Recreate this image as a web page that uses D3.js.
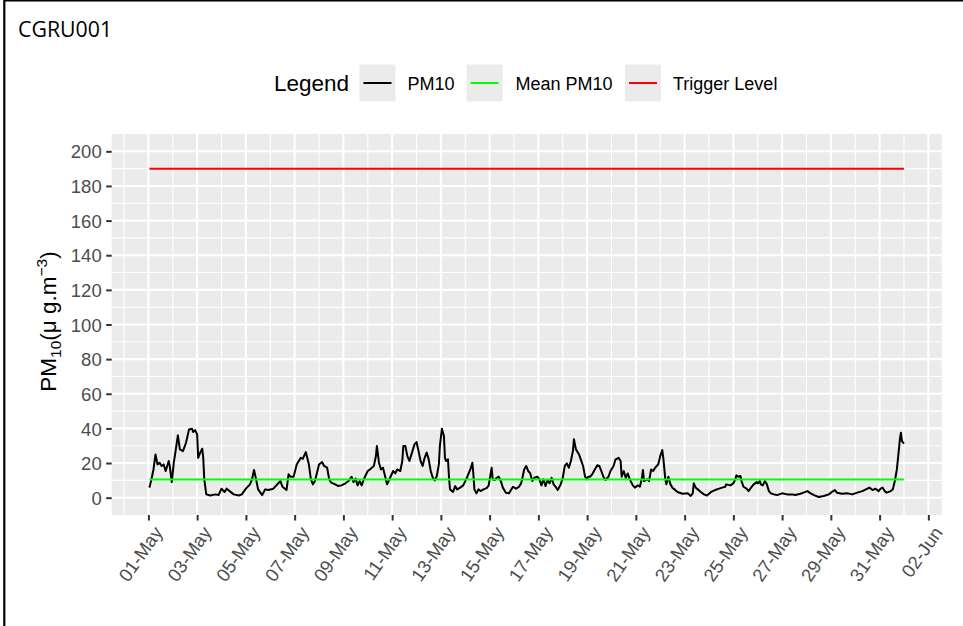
<!DOCTYPE html>
<html lang="en">
<head>
<meta charset="UTF-8">
<title>CGRU001 PM10</title>
<script src="https://d3js.org/d3.v7.min.js"></script>
<style>
  body { margin: 0; background: #fff; }
  svg { display: block; }
  text { font-family: "Liberation Sans", Arial, sans-serif; }
</style>
</head>
<body>
<svg id="canvas"></svg>
<script>
// readings: hours after 01-May 00:00 and PM10 (ug/m3)
let hours = [1,3,5,7,9,11,13,15,17,20,21,23,25,27,29,31,34,37,40,43,44,46,48,49,51,53,54,55,57,61,66,69,72,75,77,80,84,89,92,96,100,102,104,106,108,112,115,118,123,126,130,132,136,138,140,143,146,150,
  152,155,156,158,160,162,164,166,168,171,173,176,178,180,184,187,190,194,197,200,202,204,206,208,210,212,216,218,222,224,225,227,229,231,233,235,238,241,243,245,248,250,251,253,255,257,259,262,264,266,268,270,272,274,276,278,280,282,284,286,287,289,291,292,293,295,296,297,300,302,304,307,310,312,314,317,319,320,321,323,325,327,330,333,335,336,
  338,339,341,343,345,347,349,352,355,357,359,362,365,367,368,370,372,374,376,378,380,383,385,387,389,391,393,395,397,399,401,403,406,408,410,412,414,416,418,419,421,423,424,426,428,430,432,433,435,437,440,442,444,446,448,450,453,455,458,460,463,465,466,468,470,472,474,477,479,482,484,486,487,488,491,493,495,497,499,502,504,506,507,509,510,512,514,516,518,521,
  526,531,534,536,537,539,541,544,547,550,554,558,562,565,568,569,573,576,578,579,581,583,584,586,589,591,594,596,599,600,602,603,605,607,609,611,613,616,619,624,629,634,637,642,645,649,652,656,660,665,670,673,676,678,683,688,693,698,703,708,710,713,716,719,721,723,725,727,731,733,735,737,739,740,741,742,744]

let pm10 = [5.8,10.6,16.3,25,19.2,20.2,18.3,19.2,15.4,21.2,18.3,9,20.2,27.9,36,27.9,26.9,31.7,39.4,39.8,37.9,39,36.5,23,26,28.3,23,10.6,1.9,1.3,1.9,1.5,5.2,3.3,5.2,3.8,1.9,1.3,1.9,5.2,7.7,10.6,16,10.6,4.8,1.5,4.8,4.4,5.2,7.1,9.6,6.3,4.4,13.5,12.1,12.1,19.2,23,
  22.5,26.3,24,19.2,10.6,7.7,9.6,14.4,19.2,20.6,18.3,17.3,10.6,8.7,7.7,6.7,7.1,8.3,9.6,12.1,9,11,7.1,9.6,7.1,10.6,15.4,16.3,18.3,24,29.8,20.2,16.3,17.3,12.5,7.7,11.5,15.4,14,16.3,15.4,21.2,29.8,29.8,24,21.2,25,30.8,32.1,26.9,21.2,18.3,23,26,22.1,15.4,11.5,10,12.5,19.2,29.8,39.8,35.6,23,21.2,22.1,11.5,4.8,3.3,6.7,4.8,5.8,7.1,9.6,12.1,16.3,20.2,13.5,4.8,2.5,4.8,3.8,4.8,5.5,7,10.6,
  17.3,10.6,10.2,11.5,12.1,9.6,5.8,2.9,2.5,4.4,6.3,5.2,6.3,8.3,10.6,16.3,18.3,15.4,14,9.6,11.5,12.1,10.6,7.1,10.6,6.7,10.2,8.3,11.5,7.7,6.3,4.4,7.7,11.5,18.3,19.8,17.3,21.2,26.9,33.7,27.9,26,25,21.7,18.3,12.1,10.6,12.1,12.1,13.5,16.7,18.7,18.3,15.4,12.1,10.2,12.1,15.4,18.3,22.1,23,21.2,12.1,15.4,11.5,14,10.6,7.1,5.8,7.1,6.3,11.5,16,9.6,10.6,9.6,16.3,15.4,17.3,19.2,24,27.5,23,10.6,7.7,12.1,7.7,5.8,4.8,3.3,
  2.3,2.5,1,2.5,8.3,5.8,4.8,3.3,1.9,1.3,3.3,4.4,5.2,5.8,6.3,7.7,7.1,8.3,10.6,12.9,12.1,12.5,9.6,6.3,5.2,3.8,6.3,7.7,9,8.3,9.6,7.7,7.1,9.6,7.7,3.8,2.5,1.9,1.5,2.5,1.9,1.9,1.5,2.3,2.9,3.8,2.5,1.3,0.4,1,1.9,3.3,4.4,2.9,2.3,2.5,1.9,2.9,3.8,5.2,5.8,4.4,5.2,3.8,5.2,5.8,3.8,2.9,3.8,4.8,9.6,16.3,27.9,34,37.5,32.7,31.2]

let meanPM10 = 10.5
let triggerLevel = 190

let yTicks = [0,20,40,60,80,100,120,140,160,180,200]
let yMinor = [10,30,50,70,90,110,130,150,170,190]
let xTickDays = ["2023-05-01","2023-05-03","2023-05-05","2023-05-07","2023-05-09","2023-05-11","2023-05-13","2023-05-15","2023-05-17","2023-05-19","2023-05-21","2023-05-23","2023-05-25","2023-05-27","2023-05-29","2023-05-31","2023-06-02"]
let xMinorDays = ["2023-04-30","2023-05-02","2023-05-04","2023-05-06","2023-05-08","2023-05-10","2023-05-12","2023-05-14","2023-05-16","2023-05-18","2023-05-20","2023-05-22","2023-05-24","2023-05-26","2023-05-28","2023-05-30","2023-06-01"]

let legendNames = ["PM10","Mean PM10","Trigger Level"]
let legendColors = ["#000000","#00FF00","#FF0000"]

let width = 963
let height = 626
let panel = {left: 111.7, right: 941.7, top: 134, bottom: 515}

let start = Date.UTC(2023, 4, 1)
let toDate = (h) => new Date(start + h * 3600000)
let utcDay = (s) => new Date(s + 'T00:00:00Z')
let series = hours.map((h, i) => ({date: toDate(h), value: pm10[i]}))

let svg = d3.select('#canvas').attr('width', width).attr('height', height)

// frame lines on top and left
svg.append('path')
   .attr('d', 'M4.3,626V0.5H963')
   .attr('fill', 'none')
   .attr('stroke', '#000')
   .attr('stroke-width', 2.2)

svg.append('text')
   .attr('x', 18)
   .attr('y', 36.5)
   .style('font-family', '"Open Sans", sans-serif')
   .style('font-size', '21.3px')
   .attr('fill', '#000')
   .text('CGRU001')

// scales, 5% expansion on x like ggplot
let tExtent = d3.extent(series, d => d.date)
let pad = (tExtent[1] - tExtent[0]) * 0.05
let xScale = d3.scaleUtc()
               .domain([new Date(+tExtent[0] - pad), new Date(+tExtent[1] + pad)])
               .range([panel.left, panel.right])
let yScale = d3.scaleLinear()
               .domain([-10, 210])
               .range([panel.bottom, panel.top])

svg.append('rect')
   .attr('x', panel.left).attr('y', panel.top)
   .attr('width', panel.right - panel.left)
   .attr('height', panel.bottom - panel.top)
   .attr('fill', '#EBEBEB')

let grid = svg.append('g').attr('stroke', '#fff').attr('fill', 'none')
grid.selectAll('.ymin').data(yMinor).enter().append('line')
    .attr('x1', panel.left).attr('x2', panel.right)
    .attr('y1', d => yScale(d)).attr('y2', d => yScale(d))
    .attr('stroke-width', 1.1)
grid.selectAll('.xmin').data(xMinorDays).enter().append('line')
    .attr('y1', panel.top).attr('y2', panel.bottom)
    .attr('x1', d => xScale(utcDay(d))).attr('x2', d => xScale(utcDay(d)))
    .attr('stroke-width', 1.1)
grid.selectAll('.ymaj').data(yTicks).enter().append('line')
    .attr('x1', panel.left).attr('x2', panel.right)
    .attr('y1', d => yScale(d)).attr('y2', d => yScale(d))
    .attr('stroke-width', 2.1)
grid.selectAll('.xmaj').data(xTickDays).enter().append('line')
    .attr('y1', panel.top).attr('y2', panel.bottom)
    .attr('x1', d => xScale(utcDay(d))).attr('x2', d => xScale(utcDay(d)))
    .attr('stroke-width', 2.1)

// trigger and mean lines span the data period
let hLine = (val, color) => {
  svg.append('line')
     .attr('x1', xScale(tExtent[0])).attr('x2', xScale(tExtent[1]))
     .attr('y1', yScale(val)).attr('y2', yScale(val))
     .attr('stroke', color).attr('stroke-width', 2)
}
hLine(triggerLevel, '#FF0000')

let line = d3.line().x(d => xScale(d.date)).y(d => yScale(d.value))
svg.append('path')
   .datum(series)
   .attr('d', line)
   .attr('fill', 'none')
   .attr('stroke', '#000')
   .attr('stroke-width', 2)
   .attr('stroke-linejoin', 'round')

hLine(meanPM10, '#00FF00')

// axes
let yAxis = d3.axisLeft(yScale).tickValues(yTicks).tickSize(5.5).tickPadding(4.5)
let gy = svg.append('g').attr('transform', `translate(${panel.left},0)`).call(yAxis)
gy.select('.domain').remove()
gy.selectAll('.tick line').attr('stroke', '#333333').attr('stroke-width', 2)
gy.selectAll('.tick text').attr('fill', '#4D4D4D').style('font-size', '18.5px')
  .style('font-family', '"Liberation Sans", Arial, sans-serif').attr('dy', '0.36em')

let fmt = d3.utcFormat('%d-%b')
let xAxis = d3.axisBottom(xScale)
              .tickValues(xTickDays.map(utcDay))
              .tickFormat(fmt).tickSize(5.5)
let gx = svg.append('g').attr('transform', `translate(0,${panel.bottom})`).call(xAxis)
gx.select('.domain').remove()
gx.selectAll('.tick line').attr('stroke', '#333333').attr('stroke-width', 2)
gx.selectAll('.tick text')
  .attr('fill', '#4D4D4D')
  .style('font-size', '18.5px')
  .style('font-family', '"Liberation Sans", Arial, sans-serif')
  .attr('text-anchor', 'end')
  .attr('y', 0).attr('dy', 0)
  .attr('transform', 'translate(4,10) rotate(-55) translate(0,13)')

// y title with sub and superscript
let yt = svg.append('text')
            .attr('transform', `translate(56,${(panel.top + panel.bottom) / 2 - 3}) rotate(-90)`)
            .attr('text-anchor', 'middle')
            .style('font-size', '22.5px')
            .attr('fill', '#000')
yt.append('tspan').text('PM')
yt.append('tspan').attr('dy', 5).style('font-size', '15.5px').text('10')
yt.append('tspan').attr('dy', -5).text('(\u03bc g.m')
yt.append('tspan').attr('dy', -9.5).style('font-size', '15.5px').text('\u22123')
yt.append('tspan').attr('dy', 9.5).text(')')

// legend
let lg = svg.append('g')
lg.append('text').attr('x', 274).attr('y', 91).style('font-size', '22.5px').attr('fill', '#000').text('Legend')
let keyX = [359.5, 466.6, 625]
let labX = [407.5, 515.5, 673]
legendNames.forEach((name, i) => {
  lg.append('rect').attr('x', keyX[i]).attr('y', 64.5).attr('width', 36).attr('height', 37)
    .attr('fill', '#EBEBEB')
  lg.append('line').attr('x1', keyX[i] + 4).attr('x2', keyX[i] + 32)
    .attr('y1', 83).attr('y2', 83)
    .attr('stroke', legendColors[i]).attr('stroke-width', 2)
  lg.append('text').attr('x', labX[i]).attr('y', 89.5).style('font-size', '18px').attr('fill', '#000').text(name)
})
</script>
</body>
</html>
